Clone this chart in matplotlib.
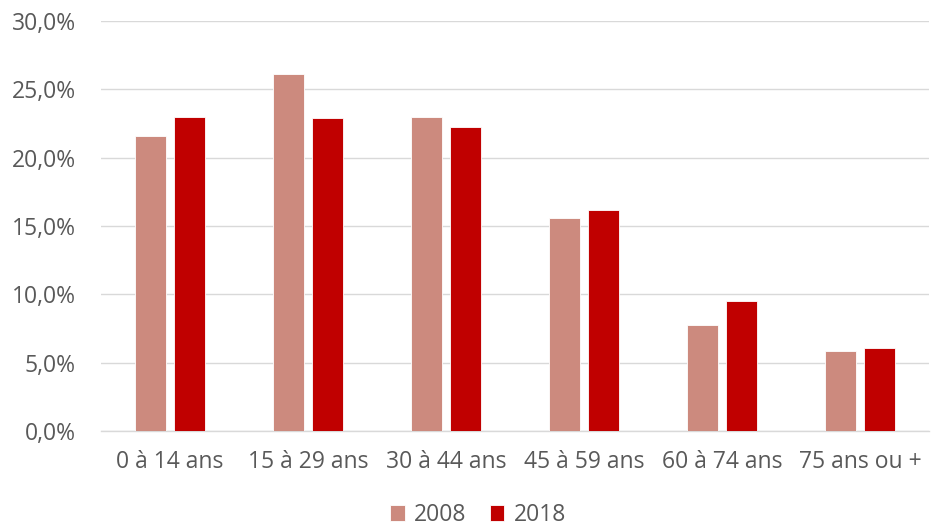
import matplotlib.pyplot as plt
import numpy as np
from matplotlib.ticker import FuncFormatter

categories = ["0 à 14 ans", "15 à 29 ans", "30 à 44 ans", "45 à 59 ans", "60 à 74 ans", "75 ans ou +"]
years = ["2008", "2018"]
share_2008 = [21.6, 26.1, 23.0, 15.6, 7.75, 5.85]
share_2018 = [22.95, 22.9, 22.25, 16.2, 9.5, 6.05]

col_2008 = "#CC8A7E"
col_2018 = "#C00000"
grey = "#595959"

plt.rcParams['font.family'] = ['Open Sans', 'DejaVu Sans']

fig = plt.figure(figsize=(9.33, 5.29), dpi=100)
ax = fig.add_axes([101 / 933, 1 - 431 / 529, 828 / 933, 410 / 529])

x = np.arange(len(categories))
w = 0.225
gap = 0.058
ax.bar(x - (w + gap) / 2, share_2008, w, color=col_2008, edgecolor="white", linewidth=0.6,
       label=years[0], zorder=3)
ax.bar(x + (w + gap) / 2, share_2018, w, color=col_2018, edgecolor="white", linewidth=0.6,
       label=years[1], zorder=3)

ax.set_xlim(-0.5, len(categories) - 0.5)
ax.set_ylim(0, 30)
ax.set_yticks(np.arange(0, 31, 5))
ax.yaxis.set_major_formatter(FuncFormatter(lambda v, p: f"{v:.1f}%".replace(".", ",")))
ax.set_xticks(x)
ax.set_xticklabels(categories)

ax.grid(axis="y", color="#D9D9D9", linewidth=1, zorder=0)
for s in ["top", "right", "left"]:
    ax.spines[s].set_visible(False)
ax.spines["bottom"].set_color("#D9D9D9")
ax.spines["bottom"].set_linewidth(1)
ax.tick_params(axis="both", length=0, labelsize=16.5, labelcolor=grey)
ax.tick_params(axis="x", pad=14)
ax.tick_params(axis="y", pad=18)

leg = fig.legend(loc="center", bbox_to_anchor=(478 / 933, 1 - 515 / 529), ncol=2, frameon=False,
                 fontsize=16.5, handlelength=0.65, handleheight=0.65, handletextpad=0.4,
                 columnspacing=1.0)
for t in leg.get_texts():
    t.set_color(grey)

fig.savefig("out.png", dpi=100)
